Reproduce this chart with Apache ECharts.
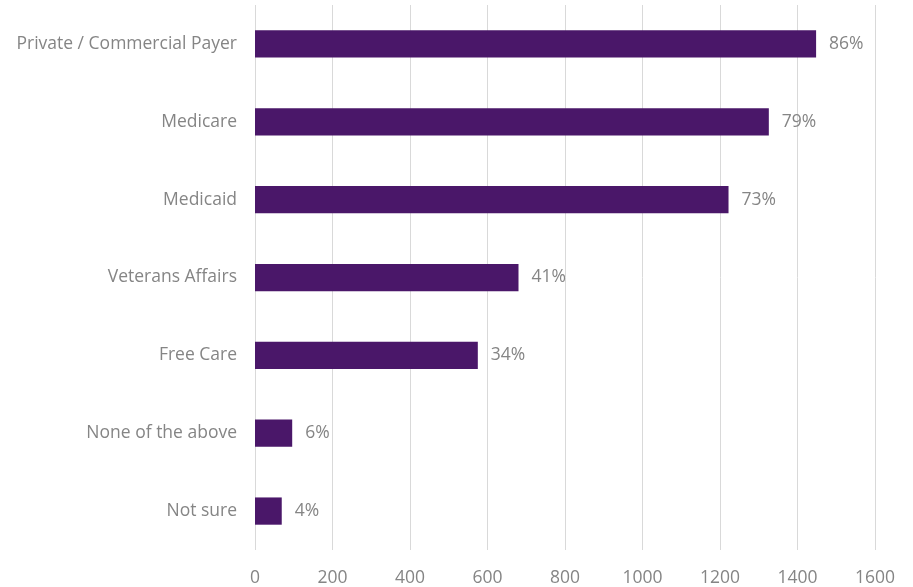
<!DOCTYPE html>
<html>
<head>
<meta charset="utf-8">
<script src="https://cdn.jsdelivr.net/npm/echarts@6/dist/echarts.min.js"></script>
<style>html,body{margin:0;padding:0;background:#fff}#c{width:913px;height:587px}</style>
</head>
<body>
<div id="c"></div>
<script>
const categories = ["Private / Commercial Payer","Medicare","Medicaid","Veterans Affairs","Free Care","None of the above","Not sure"];
const counts = [1448, 1326, 1222, 680, 575, 96, 69];
const percents = ["86%","79%","73%","41%","34%","6%","4%"];
const xTicks = [0,200,400,600,800,1000,1200,1400,1600];

const font = 'Open Sans';
const chart = echarts.init(document.getElementById('c'));
chart.setOption({
  animation: false,
  grid: {left: 255, right: 38, top: 5, bottom: 36},
  xAxis: {
    type: 'value', min: xTicks[0], max: xTicks[xTicks.length-1], interval: 200,
    axisLine: {show: false}, axisTick: {show: false},
    splitLine: {lineStyle: {color: '#d9d9d9', width: 1}},
    axisLabel: {color: '#858585', fontSize: 17.5, fontFamily: font, margin: 19, formatter: v => String(v)}
  },
  yAxis: {
    type: 'category', data: categories, inverse: true,
    axisLine: {show: false}, axisTick: {show: false},
    axisLabel: {color: '#858585', fontSize: 17.5, fontFamily: font, margin: 18, padding: [0, 0, 4, 0]}
  },
  series: [{
    type: 'bar', data: counts, barWidth: '35%',
    itemStyle: {color: '#4a1769'},
    label: {show: true, position: 'right', distance: 13, color: '#858585', fontSize: 17.5, fontFamily: font,
      padding: [0, 0, 4, 0], formatter: p => percents[p.dataIndex]}
  }]
});
</script>
</body>
</html>
